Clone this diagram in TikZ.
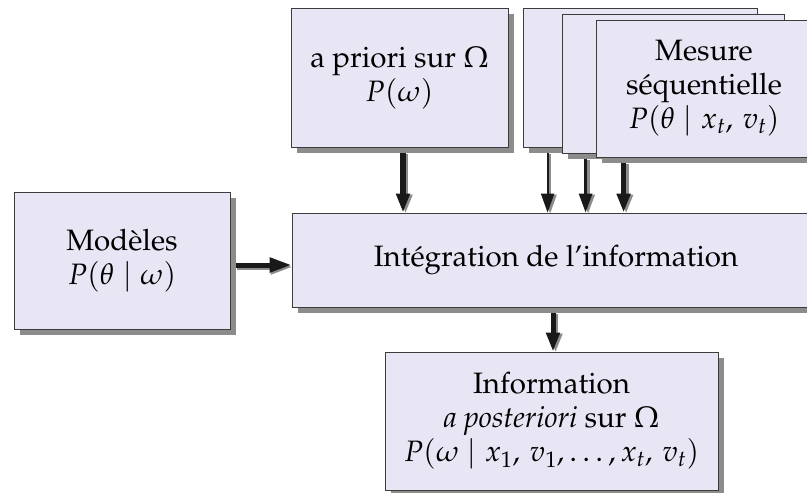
\documentclass[tikz,border=0pt]{standalone}
\usepackage[T1]{fontenc}
\usepackage{mathpazo}
\usetikzlibrary{arrows.meta,shadows,calc}
\definecolor{boxfill}{RGB}{232,230,244}
\definecolor{boxline}{RGB}{60,60,60}
\definecolor{shgray}{RGB}{140,140,140}
\definecolor{arrcol}{RGB}{25,25,25}
\tikzset{
  diagbox/.style={draw=boxline, fill=boxfill, line width=0.8pt, inner sep=0pt,
    align=center, font=\fontsize{29.5pt}{34pt}\selectfont,
    drop shadow={shadow xshift=6pt, shadow yshift=-6pt, fill=shgray, opacity=1}},
  arr/.style={-{Triangle[width=13pt,length=19pt]}},
}
\newcommand\sharrow[3]{%
  \draw[arr, line width=#1, shgray, transform canvas={shift={(2.5pt,-1pt)}}] #2 -- #3;
  \draw[arr, line width=#1, arrcol] #2 -- #3;}
\begin{document}
\begin{tikzpicture}[x=1pt,y=-1pt]
\path[use as bounding box, clip] (0,0) rectangle (807,493);
\node[diagbox, minimum width=217pt, minimum height=139pt] (prior) at (399.5,77.5)
  {a priori sur $\Omega$\\ $P(\omega)$};
\node[diagbox, minimum width=234pt, minimum height=139pt] (s1) at (640,77.5) {};
\node[diagbox, minimum width=222pt, minimum height=139pt] (s2) at (673,83.5) {};
\node[diagbox, minimum width=216pt, minimum height=137pt] (s3) at (704,88.5)
  {Mesure\\ séquentielle\\ $P(\theta \mid x_t,\, v_t)$};
\node[diagbox, minimum width=216pt, minimum height=137pt] (mod) at (122,260.5)
  {Modèles\\ $P(\theta \mid \omega)$};
\node[diagbox, minimum width=528pt, minimum height=94pt] (integ) at (556,260)
  {Intégration de l'information};
\node[diagbox, minimum width=333pt, minimum height=138pt] (info) at (551.5,421)
  {Information\\ \textit{a posteriori} sur $\Omega$\\ $P(\omega \mid x_1,\, v_1, \ldots, x_t,\, v_t)$};
% arrow start points
\coordinate (pa) at ($(prior.south)+(3.5,6)$);
\coordinate (pb) at (pa |- integ.north);
\coordinate (a1) at ($(s1.south west)+(25,6)$);
\coordinate (b1) at (a1 |- integ.north);
\coordinate (a2) at ($(s2.south west)+(24,6)$);
\coordinate (b2) at (a2 |- integ.north);
\coordinate (a3) at ($(s3.south west)+(28,6)$);
\coordinate (b3) at (a3 |- integ.north);
\coordinate (ma) at ($(mod.east)+(6,4.5)$);
\coordinate (mb) at (ma -| integ.west);
\coordinate (ia) at ($(integ.south)+(-3,6)$);
\coordinate (ib) at (ia |- info.north);
\sharrow{5.5pt}{(pa)}{(pb)}
\sharrow{2pt}{(a1)}{(b1)}
\sharrow{3pt}{(a2)}{(b2)}
\sharrow{5.5pt}{(a3)}{(b3)}
\draw[-{Triangle[width=14pt,length=22pt]}, line width=5pt, shgray, transform canvas={shift={(1pt,-2pt)}}] (ma) -- (mb);
\draw[-{Triangle[width=14pt,length=22pt]}, line width=5pt, arrcol] (ma) -- (mb);
\sharrow{5pt}{(ia)}{(ib)}
\end{tikzpicture}
\end{document}
